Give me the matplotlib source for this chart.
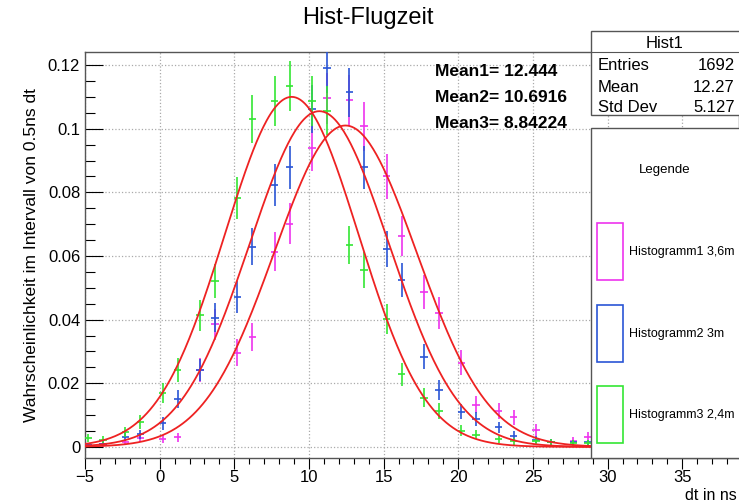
import matplotlib
matplotlib.use("Agg")
import matplotlib.pyplot as plt
import numpy as np
from matplotlib.patches import Rectangle
from matplotlib.ticker import MultipleLocator

plt.rcParams['font.family'] = ['Liberation Sans', 'DejaVu Sans']

# bin centres (ns) and normalised contents
dt = [-4.8, -3.8, -2.3, -1.3, 0.2, 1.2, 2.7, 3.7, 5.2, 6.2, 7.7, 8.7, 10.2, 11.2,
      12.7, 13.7, 15.2, 16.2, 17.7, 18.7, 20.2, 21.2, 22.7, 23.7, 25.2, 26.2, 27.7, 28.7]
hist1 = [0.0005, 0.0008, 0.0014, 0.0029, 0.0024, 0.0030, 0.0242, 0.0385, 0.0296, 0.0345,
         0.0614, 0.0701, 0.0940, 0.1095, 0.1090, 0.1007, 0.0851, 0.0662, 0.0488, 0.0420,
         0.0265, 0.0133, 0.0113, 0.0093, 0.0053, 0.0015, 0.0019, 0.0032]
hist2 = [0.0005, 0.0010, 0.0032, 0.0040, 0.0074, 0.0151, 0.0242, 0.0406, 0.0470, 0.0629,
         0.0823, 0.0879, 0.1061, 0.1190, 0.1114, 0.0879, 0.0622, 0.0525, 0.0284, 0.0179,
         0.0111, 0.0088, 0.0061, 0.0035, 0.0022, 0.0015, 0.0014, 0.0014]
hist3 = [0.0027, 0.0022, 0.0046, 0.0078, 0.0170, 0.0242, 0.0413, 0.0521, 0.0781, 0.1030,
         0.1087, 0.1134, 0.1087, 0.1056, 0.0635, 0.0556, 0.0402, 0.0228, 0.0155, 0.0113,
         0.0051, 0.0038, 0.0024, 0.0017, 0.0017, 0.0015, 0.0012, 0.0012]
entries = [1692, 1900, 1800]
labels = ['Histogramm1 3,6m', 'Histogramm2 3m', 'Histogramm3 2,4m']
colors = ['#ee33ee', '#2a55d5', '#33e633']

# gauss fit parameters: amplitude, mean, sigma
fit_amp = [0.101, 0.1055, 0.110]
fit_mean = [12.444, 10.6916, 8.84224]
fit_sigma = [4.76, 4.65, 4.48]

W, H = 739, 504
fig = plt.figure(figsize=(W / 100, H / 100), dpi=100)
ax = fig.add_axes([85 / W, 1 - 458 / H, 1 - 85 / W, (458 - 52) / H])

series = [hist1, hist2, hist3]
for i in range(3):
    y = np.array(series[i])
    err = np.sqrt(y / entries[i])
    ax.errorbar(dt, y, yerr=err, xerr=0.25, fmt='none', ecolor=colors[i],
                elinewidth=1.2, capsize=0, zorder=3)

xs = np.linspace(-5, 40, 600)
for i in range(3):
    ax.plot(xs, fit_amp[i] * np.exp(-0.5 * ((xs - fit_mean[i]) / fit_sigma[i]) ** 2),
            color='#ee2222', lw=1.3, zorder=4)

ax.set_xlim(-5, 38.8)
ax.set_ylim(-0.0035, 0.1241)
ax.xaxis.set_major_locator(MultipleLocator(5))
ax.xaxis.set_minor_locator(MultipleLocator(1))
ax.yaxis.set_major_locator(MultipleLocator(0.02))
ax.yaxis.set_minor_locator(MultipleLocator(0.005))
ax.yaxis.set_major_formatter(plt.FuncFormatter(lambda v, p: '0' if abs(v) < 1e-9 else ('%g' % v)))
ax.tick_params(axis='y', which='major', direction='in', length=13, labelsize=12, width=0.8)
ax.tick_params(axis='y', which='minor', direction='in', length=7, width=0.8)
ax.tick_params(axis='x', which='major', direction='out', length=8, labelsize=12, width=0.8, pad=1)
ax.tick_params(axis='x', which='minor', direction='out', length=4.5, width=0.8)
ax.grid(True, which='major', color='#aaaaaa', linestyle=':', linewidth=0.9)
for s in ax.spines.values():
    s.set_color('#555555')
    s.set_linewidth(1.0)

ax.set_ylabel('Wahrscheinlichkeit im Intervall von 0.5ns dt', fontsize=12.5, labelpad=6)
fig.text(737 / W, 1 - 495 / H, 'dt in ns', ha='right', va='center', fontsize=11.5)
fig.text(368 / W, 1 - 18 / H, 'Hist-Flugzeit', ha='center', va='center', fontsize=17)

means = ['Mean1= 12.444', 'Mean2= 10.6916', 'Mean3= 8.84224']
for k, txt in enumerate(means):
    fig.text(435 / W, 1 - (72 + 26 * k) / H, txt, ha='left', va='center',
             fontsize=12.5, fontweight='bold')

# stats box
fig.patches.append(Rectangle((591 / W, 1 - 115 / H), 160 / W, 84 / H, transform=fig.transFigure,
                             facecolor='white', edgecolor='#555555', lw=1.0, zorder=5))
fig.lines.append(plt.Line2D([591 / W, 1], [1 - 52 / H, 1 - 52 / H], transform=fig.transFigure,
                            color='#555555', lw=0.8, zorder=6))
fig.text(665 / W, 1 - 43 / H, 'Hist1', ha='center', va='center', fontsize=12, zorder=7)
stat_names = ['Entries', 'Mean', 'Std Dev']
stat_vals = ['1692', '12.27', '5.127']
for k in range(3):
    y0 = 1 - (66 + 21 * k) / H
    fig.text(598 / W, y0, stat_names[k], ha='left', va='center', fontsize=12, zorder=7)
    fig.text(735 / W, y0, stat_vals[k], ha='right', va='center', fontsize=12, zorder=7)

# legend box
fig.patches.append(Rectangle((591 / W, 1 - 458 / H), 160 / W, 330 / H, transform=fig.transFigure,
                             facecolor='white', edgecolor='#555555', lw=1.0, zorder=5))
fig.text(665 / W, 1 - 170 / H, 'Legende', ha='center', va='center', fontsize=9.5, zorder=7)
box_tops = [223, 305, 386]
for k in range(3):
    fig.patches.append(Rectangle((597 / W, 1 - (box_tops[k] + 57) / H), 26 / W, 57 / H,
                                 transform=fig.transFigure, facecolor='none',
                                 edgecolor=colors[k], lw=1.2, zorder=6))
    fig.text(629 / W, 1 - (box_tops[k] + 29) / H, labels[k], ha='left', va='center',
             fontsize=9, zorder=7)

fig.savefig('out.png', dpi=100)
